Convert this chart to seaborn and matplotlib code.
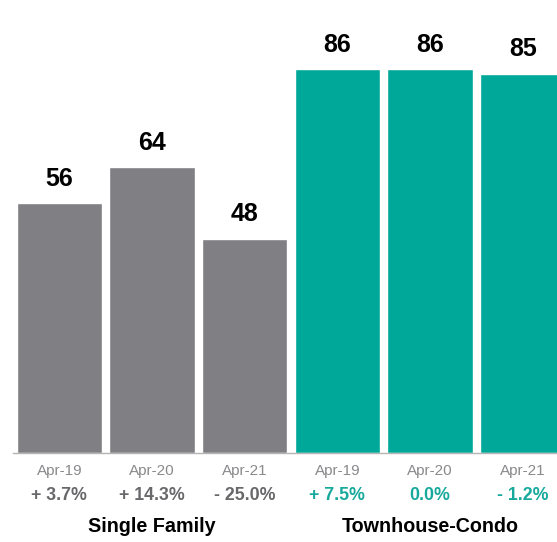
import matplotlib
matplotlib.use("Agg")
import matplotlib.pyplot as plt
import matplotlib.transforms as mtransforms
import seaborn as sns
import pandas as pd

# Chart data
segments = ["Single Family", "Single Family", "Single Family",
            "Townhouse-Condo", "Townhouse-Condo", "Townhouse-Condo"]
periods = ["Apr-19", "Apr-20", "Apr-21", "Apr-19", "Apr-20", "Apr-21"]
values = [56, 64, 48, 86, 86, 85]
changes = ["+ 3.7%", "+ 14.3%", "- 25.0%", "+ 7.5%", "0.0%", "- 1.2%"]
group_names = ["Single Family", "Townhouse-Condo"]

GRAY = "#808084"
TEAL = "#00A89A"
seg_colors = {"Single Family": GRAY, "Townhouse-Condo": TEAL}
change_colors = {"Single Family": "#68686b", "Townhouse-Condo": "#17A99B"}

df = pd.DataFrame({
    "key": [f"{s}|{p}" for s, p in zip(segments, periods)],
    "segment": segments,
    "period": periods,
    "value": values,
})

sns.set_theme(style="white")
plt.rcParams["font.family"] = ["Liberation Sans", "DejaVu Sans"]

W, H = 557, 542
fig = plt.figure(figsize=(W / 100, H / 100), dpi=100)
ax = fig.add_axes([13 / W, (H - 453) / H, 1 - 13 / W, 453 / H])

sns.barplot(data=df, x="key", y="value", hue="segment", palette=seg_colors,
            dodge=False, width=0.92, legend=False, saturation=1, ax=ax)

ax.set_xlim(-0.5, 5.37)
ax.set_ylim(0, 101.5)
ax.set_xlabel("")
ax.set_ylabel("")
ax.set_yticks([])

for s in ["top", "right", "left"]:
    ax.spines[s].set_visible(False)
ax.spines["bottom"].set_color("#b4b4b4")
ax.spines["bottom"].set_linewidth(1.0)

# Period labels under each bar
ax.set_xticks(range(len(periods)))
ax.set_xticklabels(periods, color="#8a8a8d", fontsize=11)
ax.tick_params(axis="x", which="major", length=0, pad=8)
# Group divider ticks
ax.set_xticks([-0.5, 2.5], minor=True)
ax.tick_params(axis="x", which="minor", length=7, width=1.0,
               color="#b4b4b4", direction="out")

# Value labels above bars
for i, v in enumerate(values):
    ax.annotate(str(v), (i, v), xytext=(0, 9), textcoords="offset points",
                ha="center", va="bottom", fontsize=18, fontweight="bold",
                color="black")

trans = mtransforms.blended_transform_factory(ax.transData, fig.transFigure)
# Year-over-year change row
for i, (c, s) in enumerate(zip(changes, segments)):
    ax.text(i, 1 - 495 / H, c, transform=trans, ha="center", va="center",
            fontsize=12.8, fontweight="bold", color=change_colors[s])

# Segment names
for g, name in enumerate(group_names):
    ax.text(g * 3 + 1, 1 - 526 / H, name, transform=trans, ha="center",
            va="center", fontsize=14.2, fontweight="bold", color="black")

fig.savefig("out.png", dpi=100)
